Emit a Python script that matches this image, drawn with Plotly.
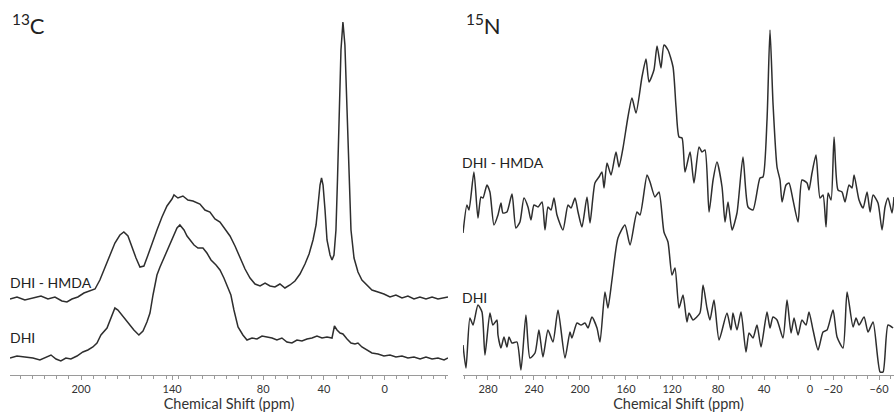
import plotly.graph_objects as go

# ---------------- 13C spectra (ppm, intensity above own baseline) ----------------
c_hmda_ppm = [246.8, 242.2, 237.0, 231.7, 226.4, 221.8, 217.2, 212.6, 209.3, 206.0, 202.1, 198.1,
              194.1, 190.8, 187.6, 184.3, 181.0, 177.7, 174.4, 171.8, 169.1, 166.5, 163.8, 161.2,
              158.6, 155.9, 153.3, 150.0, 146.7, 143.4, 140.1, 138.8, 136.2, 132.9, 129.6, 126.3,
              121.7, 118.4, 115.1, 111.8, 108.5, 105.2, 101.9, 98.6, 95.3, 92.0, 88.7, 85.4,
              82.1, 78.8, 75.5, 72.3, 69.0, 65.7, 62.4, 59.1, 55.8, 52.5, 49.8, 47.2,
              45.2, 43.9, 42.6, 41.6, 40.6, 39.3, 38.0, 36.0, 34.7, 33.4, 32.1, 31.1,
              30.1, 28.8, 27.5, 26.2, 24.8, 23.5, 22.2, 20.2, 17.6, 15.0, 11.7, 8.4,
              4.4, 0.5, -3.5, -7.4, -11.4, -15.3, -19.3, -23.2, -27.2, -31.2, -35.1, -39.1, -41.7]
c_hmda_int = [0, 2, -1, 1, 3, 0, 2, -2, -3, 0, 2, 6,
              8, 10, 19, 31, 43, 56, 64, 67, 63, 52, 41, 32,
              33, 44, 56, 69, 82, 93, 100, 104, 101, 103, 99, 98,
              95, 89, 87, 80, 77, 70, 63, 53, 41, 30, 21, 15,
              13, 16, 13, 12, 15, 11, 14, 18, 25, 35, 45, 59,
              74, 94, 114, 121, 114, 89, 59, 44, 39, 44, 69, 119,
              189, 249, 277, 254, 189, 119, 69, 41, 27, 19, 14, 9,
              7, 5, 2, 4, 1, 3, 0, 2, 0, 2, 0, 1, 2]

c_dhi_ppm = [246.8, 242.2, 237.0, 231.7, 227.1, 222.5, 219.8, 216.5, 213.3, 210.0, 206.7, 202.7,
             198.8, 195.5, 192.2, 189.5, 186.9, 182.9, 179.7, 177.7, 175.7, 173.1, 170.4, 167.8,
             165.2, 161.9, 159.2, 156.6, 154.6, 152.6, 150.0, 148.0, 145.4, 143.4, 141.4, 138.8,
             136.8, 134.9, 132.2, 130.2, 128.3, 125.6, 123.0, 119.7, 117.1, 114.4, 111.1, 108.5,
             105.9, 103.2, 101.3, 99.3, 96.6, 93.4, 90.7, 87.4, 84.1, 80.8, 77.5, 74.2,
             71.0, 67.7, 64.4, 61.1, 57.8, 54.5, 51.2, 47.9, 44.6, 41.3, 38.0, 34.7,
             33.1, 31.4, 29.4, 27.5, 24.8, 22.2, 19.6, 17.6, 15.0, 11.7, 8.4, 4.4,
             0.5, -3.5, -7.4, -11.4, -15.3, -19.3, -23.3, -27.2, -31.2, -35.1, -39.1, -41.7]
c_dhi_int = [0, 2, 1, 0, -2, 1, 3, -1, -3, 0, -1, 2,
             6, 8, 11, 15, 23, 30, 43, 50, 48, 43, 38, 32,
             28, 23, 27, 36, 45, 63, 83, 91, 100, 108, 115, 123,
             130, 133, 128, 122, 118, 113, 110, 110, 105, 98, 93, 88,
             80, 70, 63, 48, 31, 23, 18, 20, 19, 22, 21, 20,
             18, 20, 16, 15, 18, 17, 19, 20, 22, 20, 21, 20,
             32, 28, 25, 24, 19, 15, 14, 15, 11, 8, 5, 4,
             2, 3, 1, 2, 0, 1, -1, 1, -1, 0, -2, 0]

# ---------------- 15N spectra ----------------
n_hmda_ppm = [301.7, 298.3, 296.5, 292.2, 288.7, 286.1, 284.3, 280.9, 278.3, 274.8, 271.3, 268.7,
              267.0, 263.5, 259.1, 255.7, 252.2, 248.7, 245.2, 242.6, 240.0, 236.5, 233.0, 230.4,
              227.8, 225.2, 222.6, 220.0, 214.8, 210.4, 207.8, 204.3, 201.7, 198.3, 193.9, 191.3,
              187.0, 183.5, 180.9, 179.1, 176.5, 173.0, 168.7, 166.1, 162.6, 158.3, 154.8, 151.3,
              146.1, 142.6, 140.0, 135.7, 133.0, 129.6, 127.0, 123.5, 119.1, 116.5, 113.9, 111.3,
              108.7, 104.3, 100.9, 96.5, 93.9, 91.3, 87.8, 84.3, 80.9, 76.5, 73.9, 71.3,
              67.8, 63.5, 58.3, 53.9, 49.6, 43.5, 40.9, 37.4, 34.8, 32.2, 28.7, 26.1,
              24.3, 20.9, 18.3, 14.8, 10.4, 7.0, 2.6, 0.9, -1.7, -5.2, -8.7, -11.3,
              -13.9, -15.7, -18.3, -20.9, -24.3, -27.8, -30.4, -33.9, -36.5, -38.3, -42.6, -46.1,
              -49.6, -52.2, -54.8, -59.1, -62.6, -65.2, -67.8, -71.3, -73.0]
n_hmda_int = [-23, 5, 0, 38, -8, 13, 12, 25, 18, -15, -5, 7,
              -3, -2, 16, -18, -12, 12, 3, -10, 5, 3, 8, -20,
              3, 0, 12, -5, -20, 5, 2, 12, -2, -17, 13, -13,
              27, 33, 38, 22, 47, 35, 58, 43, 62, 93, 112, 97,
              133, 151, 128, 140, 164, 142, 165, 160, 143, 103, 73, 72,
              38, 58, 27, 63, 58, 60, -2, 30, 48, 23, -12, 8,
              -20, -3, 53, 3, 0, 32, 33, 90, 180, 107, 43, 30,
              8, 25, 27, 10, -12, 30, 27, 20, 37, 55, 12, 15,
              -17, 17, 10, 73, 20, 18, 8, 25, 22, 35, 10, 2,
              18, -2, 15, 7, -20, 3, 12, -3, 13]

n_dhi_ppm = [301.7, 299.1, 295.7, 293.0, 288.7, 285.2, 282.6, 278.3, 275.7, 272.2, 271.3, 268.7,
             266.1, 263.5, 261.7, 259.1, 254.8, 251.3, 247.0, 243.5, 239.1, 235.7, 232.2, 227.8,
             223.5, 219.1, 213.0, 208.7, 207.0, 202.6, 199.1, 195.7, 193.0, 189.6, 185.2, 182.6,
             178.3, 175.7, 172.2, 167.0, 160.9, 156.5, 150.4, 147.8, 141.7, 139.1, 134.8, 131.3,
             127.0, 123.5, 120.0, 117.4, 113.9, 110.4, 107.0, 105.2, 101.7, 95.7, 93.0, 89.6,
             87.0, 83.5, 79.1, 72.2, 68.7, 67.0, 63.5, 60.0, 55.7, 53.0, 49.6, 46.1,
             42.6, 37.4, 34.8, 32.2, 28.7, 23.5, 20.0, 16.5, 13.9, 10.4, 7.0, 3.5,
             0.9, -2.6, -7.0, -11.3, -14.8, -20.0, -23.5, -28.7, -32.2, -37.4, -40.0, -42.6,
             -47.0, -50.4, -54.8, -60.9, -63.5, -67.8, -72.2]
n_dhi_int = [-10, -33, 17, 10, 30, 23, -20, 22, 10, 15, 0, -13,
             -2, -12, -2, -8, -7, -35, 20, -23, -18, 5, -22, 5,
             -7, 25, -23, 3, -3, 12, 10, 12, 7, 18, 7, -7,
             43, 27, 55, 97, 110, 90, 123, 120, 160, 153, 138, 143,
             103, 93, 60, 67, 27, 40, 13, 22, 15, 22, 50, 27,
             15, 35, -5, 22, 5, 22, 5, 23, -17, 2, -3, 10,
             -12, 23, 7, 18, 15, -3, 35, 2, 17, 0, 15, 10,
             23, 5, -15, 3, 5, 25, -2, -13, 43, 8, 17, 10,
             18, 3, 13, -37, -37, 10, 7]

c_ticks = [200, 140, 80, 40, 0]
n_ticks = [280, 240, 200, 160, 120, 80, 40, 0, -20, -60]

# stacking offsets for the traces (layout)
C_OFF_HMDA, C_OFF_DHI = 76, 17
N_OFF_HMDA, N_OFF_DHI = 165, 40

W, H = 894, 412
LINE = dict(color="#2e2e2e", width=1.5)
FONT = "Lato, 'Open Sans', sans-serif"
TXT = "#333333"

fig = go.Figure()
fig.add_trace(go.Scatter(x=c_hmda_ppm, y=[v + C_OFF_HMDA for v in c_hmda_int], mode="lines",
                         line=LINE, xaxis="x", yaxis="y", showlegend=False))
fig.add_trace(go.Scatter(x=c_dhi_ppm, y=[v + C_OFF_DHI for v in c_dhi_int], mode="lines",
                         line=LINE, xaxis="x", yaxis="y", showlegend=False))
fig.add_trace(go.Scatter(x=n_hmda_ppm, y=[v + N_OFF_HMDA for v in n_hmda_int], mode="lines",
                         line=dict(LINE, shape="spline", smoothing=0.6), xaxis="x2", yaxis="y2",
                         showlegend=False))
fig.add_trace(go.Scatter(x=n_dhi_ppm, y=[v + N_OFF_DHI for v in n_dhi_int], mode="lines",
                         line=dict(LINE, shape="spline", smoothing=0.6), xaxis="x2", yaxis="y2",
                         showlegend=False))

axis_common = dict(showline=True, linecolor="#9a9a9a", linewidth=1, ticks="outside", ticklen=4,
                   tickcolor="#9a9a9a", showgrid=False, zeroline=False,
                   tickfont=dict(family=FONT, size=11, color=TXT),
                   title=dict(text="Chemical Shift (ppm)", font=dict(family=FONT, size=14.5, color=TXT),
                              standoff=1))

ydom = [37 / H, 1.0]
fig.update_layout(
    width=W, height=H, margin=dict(l=0, r=0, t=0, b=0),
    paper_bgcolor="white", plot_bgcolor="white",
    xaxis=dict(axis_common, domain=[10 / W, 448 / W], range=[246.8, -41.7], tickvals=c_ticks,
               minor=dict(ticks="outside", ticklen=3, dtick=8, tick0=0, tickcolor="#9a9a9a"),
               anchor="y"),
    yaxis=dict(domain=ydom, range=[0, 375], visible=False, anchor="x"),
    xaxis2=dict(axis_common, domain=[463 / W, 1.0], range=[301.7, -73.0], tickvals=n_ticks,
                minor=dict(ticks="outside", ticklen=3, dtick=10, tick0=0, tickcolor="#9a9a9a"),
                anchor="y2"),
    yaxis2=dict(domain=ydom, range=[0, 375], visible=False, anchor="x2"),
)

def label(px, py, text, size):
    fig.add_annotation(x=px / W, y=1 - py / H, xref="paper", yref="paper", text=text,
                       showarrow=False, xanchor="left", yanchor="middle",
                       font=dict(family=FONT, size=size, color="#222222"))

label(10, 25, "<sup>13</sup>C", 22)
label(464, 25, "<sup>15</sup>N", 22)
label(8, 282, "DHI - HMDA", 14)
label(8, 337, "DHI", 14)
label(460, 163, "DHI - HMDA", 14)
label(460, 297, "DHI", 14)

fig.write_html("out.html")
